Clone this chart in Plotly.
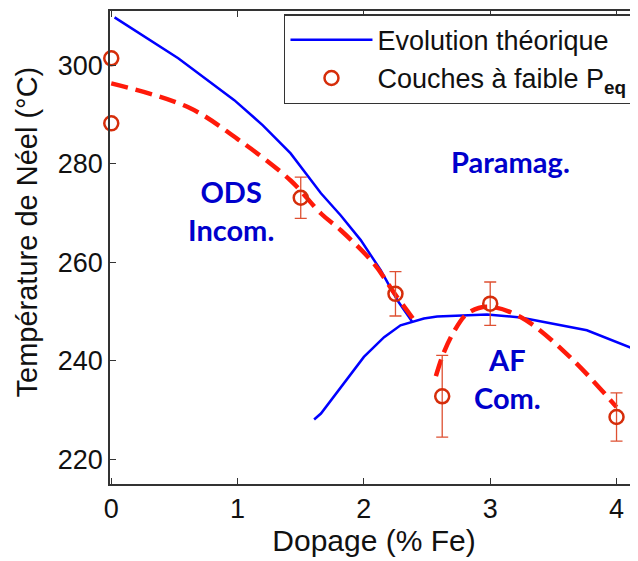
import plotly.graph_objects as go

# ---- data ----
theory_upper_x = [0.026, 0.53, 0.974, 1.2, 1.42, 1.66, 1.817, 1.975, 2.133, 2.265, 2.383]
theory_upper_y = [309.7, 301.4, 292.9, 287.8, 282.1, 274.0, 269.5, 264.5, 258.4, 252.3, 247.9]

theory_lower_x = [1.606, 1.66, 2.0, 2.16, 2.29, 2.383, 2.475, 2.58, 2.765, 2.975, 3.24, 3.765, 4.17]
theory_lower_y = [228.1, 229.3, 240.8, 244.8, 247.2, 247.9, 248.6, 249.0, 249.2, 249.4, 248.8, 246.2, 242.1]

fit1_x = [0.0, 0.606, 1.0, 1.42, 1.66, 1.817, 2.08, 2.25, 2.40]
fit1_y = [296.3, 291.5, 285.0, 276.6, 269.9, 266.5, 259.7, 253.4, 248.2]

fit2_x = [2.57, 2.63, 2.71, 2.82, 2.975, 3.24, 3.63, 4.0]
fit2_y = [236.9, 241.5, 245.8, 249.6, 251.0, 248.9, 240.8, 230.6]

meas0_x = [0.0, 0.0]
meas0_y = [301.4, 288.2]

meas_x = [1.5, 2.25, 2.62, 3.0, 4.0]
meas_y = [273.1, 253.6, 232.8, 251.6, 228.6]
meas_err = [4.2, 4.5, 8.3, 4.4, 4.9]

x_ticks = [0, 1, 2, 3, 4]
y_ticks = [220, 240, 260, 280, 300]

BLUE = "#0000FF"
RED_FIT = "#FF1A0A"
RED_MK = "rgb(214,45,10)"
RED_ERR = "rgb(222,80,50)"
TXT_BLUE = "#0000CC"

fig = go.Figure()

# theoretical evolution (two branches, one legend entry)
fig.add_trace(go.Scatter(
    x=theory_upper_x + [None] + theory_lower_x,
    y=theory_upper_y + [None] + theory_lower_y,
    mode="lines", line=dict(color=BLUE, width=2.5),
    name="Evolution théorique", connectgaps=False,
))

# dashed guide curves
for fx, fy in [(fit1_x, fit1_y), (fit2_x, fit2_y)]:
    fig.add_trace(go.Scatter(
        x=fx, y=fy, mode="lines", showlegend=False,
        line=dict(color=RED_FIT, width=4.5, dash="17px,8px", shape="spline"),
    ))

# measured points
fig.add_trace(go.Scatter(
    x=meas_x, y=meas_y, mode="markers",
    name="Couches à faible P<sub><b>eq</b></sub>",
    legendgroup="m",
    marker=dict(symbol="circle-open", size=14, color=RED_MK, line=dict(width=2.5, color=RED_MK)),
    error_y=dict(type="data", array=meas_err, visible=True, color=RED_ERR, thickness=1.3, width=6),
    cliponaxis=False,
))
fig.add_trace(go.Scatter(
    x=meas0_x, y=meas0_y, mode="markers", showlegend=False, legendgroup="m",
    marker=dict(symbol="circle-open", size=14, color=RED_MK, line=dict(width=2.5, color=RED_MK)),
    cliponaxis=False,
))

ann_font = dict(family="Lato", size=29, color=TXT_BLUE)
fig.add_annotation(x=0.948, y=270.6, text="<b>ODS<br>Incom.</b>", showarrow=False, font=ann_font)
fig.add_annotation(x=3.16, y=280.4, text="<b>Paramag.</b>", showarrow=False, font=ann_font)
fig.add_annotation(x=3.14, y=236.4, text="<b>AF<br>Com.</b>", showarrow=False, font=ann_font)

# y-axis title
fig.add_annotation(
    xref="paper", yref="paper", x=-0.158, y=0.533, xanchor="center", yanchor="middle",
    text="Température de Néel (°C)", textangle=-90, showarrow=False,
    font=dict(family="Liberation Sans", size=29, color="#111111"),
)

axis_common = dict(
    showline=True, linecolor="#333333", linewidth=1.5,
    ticks="inside", ticklen=6, tickcolor="#333333", tickwidth=1.2,
    showgrid=False, zeroline=False,
    tickfont=dict(family="Liberation Sans", size=27, color="#111111"),
)

# the page adds an 8px body margin, so the figure is 8px smaller and margins shifted
fig.update_layout(
    width=630, height=553,
    margin=dict(l=102, r=0, t=3, b=77),
    plot_bgcolor="white", paper_bgcolor="white",
    font=dict(family="Liberation Sans", color="#111111"),
    xaxis=dict(
        range=[-0.01, 4.17], tickvals=x_ticks, mirror="ticks",
        title=dict(text="Dopage (% Fe)", font=dict(family="Liberation Sans", size=30), standoff=3),
        **axis_common,
    ),
    yaxis=dict(
        range=[215, 311], tickvals=y_ticks,
        **axis_common,
    ),
    legend=dict(
        x=0.3295, y=0.993, xanchor="left", yanchor="top",
        bgcolor="white", bordercolor="#333333", borderwidth=1.5,
        font=dict(family="Liberation Sans", size=27, color="#111111"),
        itemwidth=82, tracegroupgap=0,
    ),
    showlegend=True,
)

fig.write_html("out.html")
